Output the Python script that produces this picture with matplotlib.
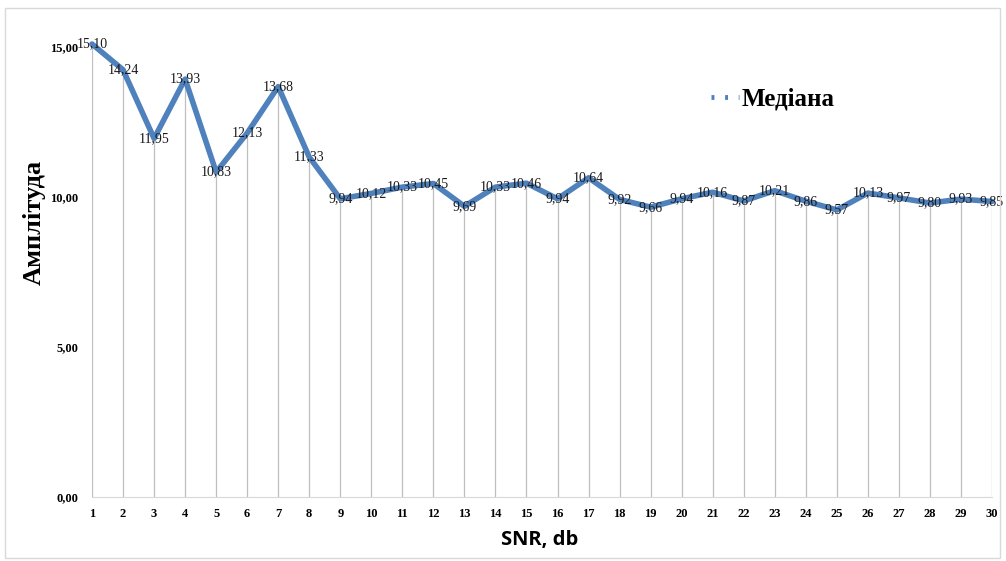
import matplotlib.pyplot as plt
from matplotlib.lines import Line2D
from matplotlib.patches import Rectangle

# SNR steps and median amplitude values
snr = list(range(1, 31))
median = [15.10, 14.24, 11.95, 13.93, 10.83, 12.13, 13.68, 11.33, 9.94, 10.12,
          10.33, 10.45, 9.69, 10.33, 10.46, 9.94, 10.64, 9.92, 9.66, 9.94,
          10.16, 9.87, 10.21, 9.86, 9.57, 10.13, 9.97, 9.80, 9.93, 9.85]
y_ticks = [0, 5, 10, 15]

line_color = '#4f81bd'
serif = 'Liberation Serif'

fig = plt.figure(figsize=(10.06, 5.61), dpi=100)
fig.patches.append(Rectangle((5 / 1006, 3 / 561), 995 / 1006, 550 / 561,
                             transform=fig.transFigure, fill=False,
                             edgecolor='#d9d9d9', linewidth=1))

ax = fig.add_axes([92 / 1006, 1 - 497 / 561, 900 / 1006, 450 / 561])

# drop lines from each point down to the axis
ax.vlines(snr, 0, median, color='#bfbfbf', linewidth=0.9, zorder=1)
ax.plot(snr, median, color=line_color, linewidth=4, zorder=2,
        solid_capstyle='round', clip_on=False)

for x, y in zip(snr, median):
    ax.text(x, y, f'{y:.2f}'.replace('.', ','), ha='center', va='center',
            fontsize=10, family=serif, color='#1a1a1a', zorder=3)

ax.set_xlim(1, 30)
ax.set_ylim(0, 15)
ax.set_xticks(snr)
ax.set_yticks(y_ticks)
ax.set_yticklabels([f'{v:.2f}'.replace('.', ',') for v in y_ticks])
for lab in ax.get_xticklabels() + ax.get_yticklabels():
    lab.set_fontfamily(serif)
    lab.set_fontweight('bold')
    lab.set_fontsize(9)
ax.tick_params(length=0, pad=8)
ax.tick_params(axis='y', pad=10)

for side in ['top', 'right', 'left']:
    ax.spines[side].set_visible(False)
ax.spines['bottom'].set_color('#d9d9d9')

fig.text(34 / 1006, 1 - 222 / 561, 'Амплітуда', rotation=90, ha='center',
         va='center', fontsize=19, fontweight='bold', family=serif)
fig.text(540 / 1006, 1 - 540 / 561, 'SNR, db', ha='center', va='center',
         fontsize=14.5, fontweight='bold', family='Open Sans')

handle = Line2D([0], [0], color=line_color, linewidth=3.5, linestyle=(0, (0.6, 2.2)))
ax.legend([handle], ['Медіана'], loc='upper left', bbox_to_anchor=(0.663, 0.96),
          frameon=False, handlelength=1.1, handletextpad=0.1,
          prop={'family': serif, 'weight': 'bold', 'size': 18})

fig.savefig('out.png', dpi=100)
